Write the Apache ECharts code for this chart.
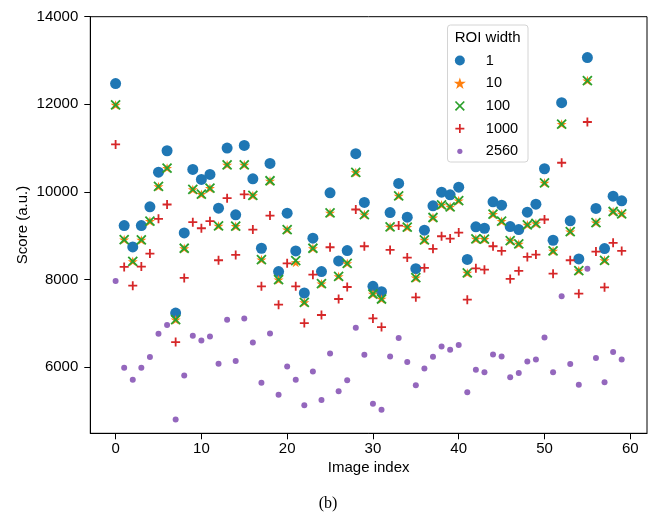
<!DOCTYPE html>
<html>
<head>
<meta charset="utf-8">
<script src="https://cdn.jsdelivr.net/npm/echarts@6/dist/echarts.min.js"></script>
<style>
html,body{margin:0;padding:0;background:#fff;}
#chart{width:656px;height:514px;}
</style>
</head>
<body>
<div id="chart"></div>
<script>
// Image index 0..59
const imageIndex = [0,1,2,3,4,5,6,7,8,9,10,11,12,13,14,15,16,17,18,19,20,21,22,23,24,25,26,27,28,29,30,31,32,33,34,35,36,37,38,39,40,41,42,43,44,45,46,47,48,49,50,51,52,53,54,55,56,57,58,59];

const roi1 = [12473,9233,8745,9233,9659,10452,10940,7235,9065,10513,10285,10399,9629,11001,9477,11062,10300,8714,10651,8181,
  9514,8654,7693,8943,8181,9980,8425,8662,10872,9759,7845,7723,9530,10193,9423,8249,9126,9683,9995,9934,
  10109,8460,9203,9171,9775,9697,9210,9141,9537,9720,10529,8897,12038,9340,8471,13068,9622,8707,9903,9797];

const roi10 = [11985,8913,8417,8905,9332,10125,10544,7083,8714,10056,9949,10086,9226,10620,9218,10620,9919,8455,10255,7998,
  9141,8390,7479,8714,7906,9522,8074,8371,10445,9484,7670,7556,9203,9912,9195,8043,8905,9416,9706,9659,
  9804,8151,8928,8920,9492,9332,8890,8814,9249,9280,10209,8654,11550,9096,8204,12541,9301,8440,9553,9500];

const roi100 = [11985,8913,8417,8905,9332,10125,10544,7083,8714,10056,9949,10086,9226,10620,9218,10620,9919,8455,10255,7998,
  9141,8430,7479,8714,7906,9522,8074,8371,10445,9484,7670,7556,9203,9912,9195,8043,8905,9416,9706,9659,
  9804,8151,8928,8920,9492,9332,8890,8814,9249,9280,10209,8654,11550,9096,8204,12541,9301,8440,9553,9500];

const roi1000 = [11085,8288,7861,8296,8592,9386,9713,6573,8036,9309,9171,9332,8440,9858,8562,9942,9141,7845,9461,7426,
  8371,7845,7007,8112,7190,8737,7556,7830,9599,8760,7113,6916,8677,9233,8501,7594,8265,8700,8988,8935,
  9073,7540,8256,8226,8760,8654,8014,8197,8517,8570,9370,8135,10666,8440,7678,11596,8638,7822,8837,8654];

const roi2560 = [7968,5985,5711,5985,6230,6763,6961,4803,5810,6717,6610,6702,6077,7083,6138,7113,6564,5642,6771,5368,
  6015,5711,5132,5901,5253,6313,5452,5703,6900,6283,5162,5025,6244,6664,6115,5589,5970,6237,6473,6397,
  6504,5425,5939,5886,6290,6244,5772,5864,6130,6176,6679,5886,7616,6070,5596,8249,6207,5658,6344,6175];

const seriesNames = ['1','10','100','1000','2560'];
const xTicks = [0,10,20,30,40,50,60];
const yTicks = [6000,8000,10000,12000,14000];

const colors = ['#1f77b4','#ff7f0e','#2ca02c','#d62728','#9467bd'];
const FONT = 'Liberation Sans, Arial, sans-serif';

const starPath = 'path://M50,0L61.23,34.55L97.55,34.55L68.17,55.9L79.39,90.45L50,69.1L20.61,90.45L31.83,55.9L2.45,34.55L38.77,34.55Z';
const crossPath = 'path://M0,0L10,10M10,0L0,10';
const plusPath = 'path://M5,0L5,10M0,5L10,5';

// legend icons (with invisible bbox anchors to control size)
const legCircle = 'path://M0,0M12,12M1,6a5,5 0 1,0 10,0a5,5 0 1,0 -10,0Z';
const legStar = starPath;
const legCross = 'path://M0,0M12,12M1.6,1.6L10.4,10.4M10.4,1.6L1.6,10.4';
const legPlus = 'path://M0,0M12,12M6,1.5L6,10.5M1.5,6L10.5,6';
const legDot = 'path://M0,0M12,12M3.4,6a2.6,2.6 0 1,0 5.2,0a2.6,2.6 0 1,0 -5.2,0Z';

function pts(vals){ return imageIndex.map((x,i)=>[x, vals[i]]); }

const chart = echarts.init(document.getElementById('chart'), null, {renderer:'canvas'});
chart.setOption({
  animation: false,
  backgroundColor: '#fff',
  grid: { left: 90.3, right: 9, top: 16.7, bottom: 80.7, show: true, borderColor: '#000', borderWidth: 1, containLabel: false, outerBoundsMode: 'none' },
  xAxis: {
    type: 'value', min: -2.95, max: 61.95,
    name: 'Image index', nameLocation: 'middle', nameGap: 27, nameMoveOverlap: false,
    nameTextStyle: { fontFamily: FONT, fontSize: 15, color: '#000' },
    axisLine: { show: true, onZero: false, lineStyle: { color: '#000', width: 1 } },
    axisTick: { show: true, length: 6, customValues: xTicks, lineStyle: { color: '#000', width: 1 } },
    axisLabel: { customValues: xTicks, margin: 8, fontFamily: FONT, fontSize: 15, color: '#000',
      formatter: function (v) { return String(v); } },
    splitLine: { show: false }
  },
  yAxis: {
    type: 'value', min: 4490, max: 14000,
    name: 'Score (a.u.)', nameLocation: 'middle', nameGap: 60, nameMoveOverlap: false,
    nameTextStyle: { fontFamily: FONT, fontSize: 15, color: '#000' },
    axisLine: { show: true, onZero: false, lineStyle: { color: '#000', width: 1 } },
    axisTick: { show: true, length: 6, customValues: yTicks, lineStyle: { color: '#000', width: 1 } },
    axisLabel: { customValues: yTicks, margin: 12, fontFamily: FONT, fontSize: 15, color: '#000',
      formatter: function (v) { return String(v); } },
    splitLine: { show: false }
  },
  legend: {
    orient: 'vertical', left: 453, top: 53, padding: 0,
    itemWidth: 12, itemHeight: 12, itemGap: 7.7,
    textStyle: { fontFamily: FONT, fontSize: 14.5, color: '#000', lineHeight: 14, padding: [0,0,0,15] },
    data: [
      { name: '1', icon: legCircle, itemStyle: { color: colors[0], borderWidth: 0 } },
      { name: '10', icon: legStar, itemStyle: { color: colors[1], borderWidth: 0 } },
      { name: '100', icon: legCross, itemStyle: { color: 'rgba(0,0,0,0)', borderColor: colors[2], borderWidth: 1.7 } },
      { name: '1000', icon: legPlus, itemStyle: { color: 'rgba(0,0,0,0)', borderColor: colors[3], borderWidth: 1.7 } },
      { name: '2560', icon: legDot, itemStyle: { color: colors[4], borderWidth: 0 } }
    ]
  },
  graphic: [
    { type: 'rect', z: 3, shape: { x: 447.5, y: 25, width: 80.5, height: 137, r: 3 },
      style: { fill: 'rgba(255,255,255,0.85)', stroke: '#d4d4d4', lineWidth: 1 } },
    { type: 'text', z: 5, x: 487.7, y: 37.5,
      style: { text: 'ROI width', font: '15px Liberation Sans, Arial, sans-serif', fill: '#000', textAlign: 'center', textVerticalAlign: 'middle' } },
    { type: 'text', z: 5, x: 328, y: 504,
      style: { text: '(b)', font: '16px Liberation Serif, Times New Roman, serif', fill: '#000', textAlign: 'center', textVerticalAlign: 'middle' } }
  ],
  series: [
    { name: seriesNames[0], type: 'scatter', data: pts(roi1), symbol: 'circle', symbolSize: 11,
      itemStyle: { color: colors[0], opacity: 1 } },
    { name: seriesNames[1], type: 'scatter', data: pts(roi10), symbol: starPath, symbolKeepAspect: true, symbolSize: 10,
      itemStyle: { color: colors[1], opacity: 1 } },
    { name: seriesNames[2], type: 'scatter', data: pts(roi100), symbol: crossPath, symbolSize: 9,
      itemStyle: { color: 'rgba(0,0,0,0)', borderColor: colors[2], borderWidth: 1.8, opacity: 1 } },
    { name: seriesNames[3], type: 'scatter', data: pts(roi1000), symbol: plusPath, symbolSize: 9,
      itemStyle: { color: 'rgba(0,0,0,0)', borderColor: colors[3], borderWidth: 1.8, opacity: 1 } },
    { name: seriesNames[4], type: 'scatter', data: pts(roi2560), symbol: 'circle', symbolSize: 6,
      itemStyle: { color: colors[4], opacity: 1 } }
  ]
});
</script>
</body>
</html>
